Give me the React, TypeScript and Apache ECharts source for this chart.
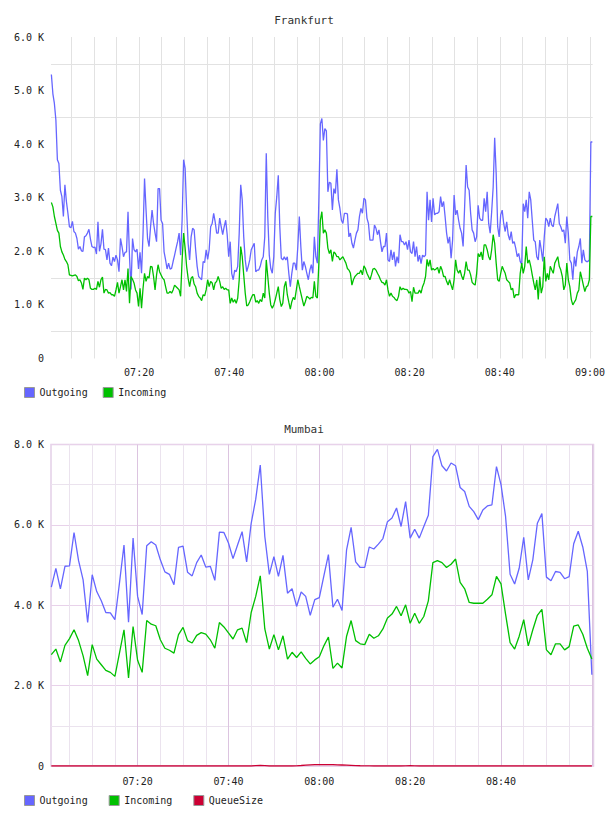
import React, { useEffect, useRef } from "react";
import * as echarts from "echarts";

// ---------- Frankfurt: samples every 20 s starting 07:00:32, values in thousands ----------
const frankfurtStartMin = 420 + 32 / 60;
const frankfurtStepMin = 20 / 60;

const frankfurtOutgoingK = [
  5.30, 4.94, 4.76, 4.45, 3.71, 3.64, 3.14, 3.02, 2.65, 3.24,
  2.93, 2.71, 2.46, 2.44, 2.56, 2.37, 2.34, 2.24, 2.04, 2.09,
  2.01, 2.00, 2.27, 2.29, 2.34, 2.41, 2.23, 2.09, 2.07, 2.08,
  1.95, 2.55, 2.00, 2.14, 2.41, 2.04, 2.03, 1.84, 2.06, 1.78,
  1.73, 1.89, 1.81, 1.93, 1.84, 1.62, 2.24, 2.09, 1.90, 1.98,
  1.99, 2.74, 1.90, 1.29, 2.24, 2.03, 1.99, 2.04, 1.67, 1.98,
  1.59, 2.34, 3.36, 2.77, 2.24, 2.09, 2.46, 2.77, 2.52, 2.34,
  2.18, 3.17, 3.17, 2.58, 2.52, 1.99, 1.84, 1.67, 1.78, 1.67,
  1.68, 1.81, 1.93, 2.06, 2.18, 2.34, 1.93, 2.58, 3.71, 3.55,
  2.77, 2.15, 1.84, 2.27, 2.43, 2.40, 2.03, 1.72, 1.53, 1.50,
  1.47, 1.81, 1.79, 2.03, 1.85, 2.03, 2.46, 2.52, 2.71, 2.55,
  2.34, 2.34, 2.62, 2.46, 2.31, 2.46, 2.58, 2.31, 1.90, 2.18,
  1.59, 1.47, 1.65, 1.62, 1.72, 2.34, 3.24, 2.96, 2.27, 1.84,
  1.62, 1.72, 1.84, 2.03, 2.09, 2.15, 1.62, 1.65, 1.65, 1.72,
  1.84, 1.90, 2.27, 3.83, 2.65, 1.93, 1.68, 1.59, 1.90, 2.71,
  3.02, 3.42, 2.46, 1.87, 1.84, 1.90, 1.84, 1.90, 1.59, 1.34,
  1.59, 1.78, 1.78, 1.65, 2.09, 2.65, 2.09, 1.65, 1.81, 1.72,
  1.59, 1.47, 1.65, 1.75, 1.59, 2.27, 1.90, 1.78, 2.96, 4.38,
  4.48, 4.07,
  4.29, 4.25, 3.11, 3.29, 3.27, 2.77, 3.17, 3.08, 3.53, 2.96,
  2.80, 2.58, 2.52, 2.71, 2.71, 2.70, 2.27, 2.34, 2.15, 2.06,
  2.21, 2.34, 2.40, 2.65, 2.80, 2.71, 2.99, 2.96, 2.62, 2.52,
  2.21, 2.21, 2.21, 2.49, 2.43, 2.31, 2.40, 2.18, 1.99, 2.09,
  2.09, 2.34, 1.84, 1.81, 2.03, 1.84, 1.99, 1.72, 1.90, 1.78,
  2.31, 2.18, 2.18, 2.12, 2.18, 2.03, 2.21, 1.99, 1.96, 2.18,
  1.90, 2.09, 1.81, 1.93, 1.77, 1.93, 1.90, 1.93, 3.11, 2.58,
  2.96, 2.55, 2.99, 2.68, 2.71, 2.71, 2.74, 3.02, 2.83, 2.93,
  2.65, 2.34, 2.15, 2.27, 1.87, 2.21, 3.05, 2.68, 2.77, 2.58,
  2.43, 2.34, 2.09, 2.83, 3.61, 3.20, 3.14, 2.71, 2.40, 2.34,
  2.18, 2.27, 2.86, 2.62, 2.58, 2.58, 2.99, 2.74, 3.11, 2.52,
  2.34, 2.74, 3.20, 4.12, 3.45, 2.46, 2.27, 2.68, 2.77, 2.52,
  2.37, 2.55, 2.31, 2.21, 2.37, 2.15, 2.18, 2.06, 1.90, 1.96,
  1.81, 1.75, 2.89, 2.74, 2.96, 2.62, 3.11, 2.96, 2.58, 2.21,
  2.18, 1.90, 1.84, 2.21, 2.03, 1.81, 2.27, 2.62, 2.58, 2.46,
  2.62, 2.49, 2.46, 2.65, 2.77, 2.89, 2.52, 2.46, 2.37, 2.40,
  2.15, 2.65, 2.34, 1.84, 1.78, 1.47, 1.90, 1.72, 1.99, 2.09,
  2.24, 1.78, 2.03, 1.84, 1.81, 1.81, 1.84, 4.04, 4.04,
];

const frankfurtIncomingK = [
  2.91, 2.83, 2.65, 2.52, 2.39, 2.34, 2.09, 1.99, 1.93, 1.85,
  1.81, 1.75, 1.56, 1.55, 1.54, 1.55, 1.56, 1.53, 1.45, 1.47,
  1.41, 1.29, 1.50, 1.47, 1.50, 1.47, 1.31, 1.29, 1.29, 1.31,
  1.29, 1.44, 1.33, 1.47, 1.52, 1.22, 1.29, 1.28, 1.22, 1.23,
  1.19, 1.19, 1.16, 1.28, 1.42, 1.22, 1.34, 1.47, 1.28, 1.47,
  1.25, 1.68, 1.03, 1.53, 1.48, 1.41, 1.28, 1.22, 0.97, 1.31,
  0.94, 1.31, 1.59, 1.44, 1.53, 1.50, 1.72, 1.71, 1.53, 1.28,
  1.56, 1.75, 1.62, 1.56, 1.50, 1.47, 1.34, 1.22, 1.22, 1.25,
  1.22, 1.28, 1.37, 1.34, 1.31, 1.28, 1.16, 1.84, 2.34, 2.06,
  1.72, 1.50, 1.34, 1.50, 1.53, 1.39, 1.34, 1.22, 1.16, 1.13,
  1.08, 1.19, 1.17, 1.28, 1.47, 1.34, 1.44, 1.41, 1.28, 1.41,
  1.44, 1.53, 1.44, 1.31, 1.34, 1.29, 1.31, 1.28, 1.28, 1.03,
  1.13, 1.05, 1.10, 1.03, 1.13, 1.47, 2.09, 1.90, 1.56, 1.22,
  0.98, 1.00, 1.06, 1.13, 1.19, 1.19, 1.05, 1.08, 1.03, 1.10,
  1.06, 1.22, 1.13, 1.84, 1.53, 1.22, 1.00, 0.94, 1.00, 1.10,
  1.22, 1.34, 1.10, 0.97, 1.03, 1.34, 1.44, 1.19, 1.05, 0.92,
  1.06, 1.14, 1.10, 1.28, 1.47, 1.34, 1.22, 1.10, 0.98, 1.06,
  1.16, 1.14, 1.11, 1.14, 1.13, 1.44, 1.16, 1.13, 1.78, 2.58,
  2.74, 2.34,
  2.40, 2.34, 2.06, 1.96, 2.03, 1.81, 1.99, 1.96, 1.90, 1.90,
  1.84, 1.87, 1.90, 1.84, 1.78, 1.68, 1.65, 1.59, 1.37, 1.47,
  1.53, 1.56, 1.59, 1.59, 1.65, 1.56, 1.73, 1.68, 1.59, 1.53,
  1.47, 1.56, 1.67, 1.68, 1.65, 1.59, 1.54, 1.47, 1.42, 1.41,
  1.37, 1.47, 1.28, 1.16, 1.22, 1.16, 1.14, 1.10, 1.08, 1.16,
  1.34, 1.28, 1.31, 1.29, 1.29, 1.28, 1.22, 1.25, 1.06, 1.33,
  1.22, 1.22, 1.22, 1.28, 1.22, 1.34, 1.41, 1.53, 1.85, 1.72,
  1.84, 1.65, 1.68, 1.65, 1.67, 1.70, 1.59, 1.72, 1.65, 1.53,
  1.53, 1.44, 1.37, 1.47, 1.37, 1.28, 1.47, 1.84, 1.65, 1.59,
  1.65, 1.54, 1.47, 1.59, 1.81, 1.65, 1.65, 1.56, 1.42, 1.39,
  1.37, 1.59, 1.96, 1.90, 1.99, 1.84, 2.12, 2.12, 2.03, 1.90,
  1.84, 2.03, 2.31, 2.15, 1.78, 1.47, 1.44, 1.59, 1.72, 1.65,
  1.59, 1.47, 1.44, 1.41, 1.28, 1.31, 1.13, 1.19, 1.19, 1.19,
  1.59, 1.78, 1.59, 1.72, 2.09, 1.78, 1.84, 1.72, 1.56, 1.41,
  1.28, 1.47, 1.10, 1.53, 1.22, 1.34, 1.90, 1.44, 1.59, 1.47,
  1.72, 1.65, 1.59, 1.78, 1.84, 1.90, 1.72, 1.65, 1.53, 1.28,
  1.37, 1.78, 1.47, 1.34, 1.10, 1.00, 1.05, 1.10, 1.22, 1.28,
  1.62, 1.50, 1.37, 1.25, 1.34, 1.36, 1.47, 2.65, 2.65,
];

// ---------- Mumbai: one sample per minute starting 07:01, values in thousands ----------
const mumbaiStartMin = 421;
const mumbaiStepMin = 1;

const mumbaiOutgoingK = [
  4.45, 4.92, 4.41, 4.97, 4.98, 5.81, 5.11, 4.63, 3.57, 4.76,
  4.34, 4.11, 3.82, 3.81, 3.64, 4.55, 5.50, 3.58, 5.67, 4.22,
  3.77, 5.48, 5.58, 5.50, 5.13, 4.83, 4.77, 4.51, 5.44, 5.47,
  4.82, 4.73, 5.06, 5.25, 4.95, 4.97, 4.62, 5.82, 5.81, 5.55,
  5.16, 5.50, 5.83, 5.08, 6.04, 6.64, 7.49, 5.71, 4.77, 5.21,
  4.72, 5.24, 4.30, 4.41, 3.97, 4.33, 4.22, 3.75, 4.14, 4.19,
  4.73, 5.26, 3.95, 4.15, 3.87, 5.38, 5.94, 5.08, 4.94, 4.94,
  5.45, 5.40, 5.52, 5.66, 6.08, 6.17, 6.42, 5.96, 6.58, 5.67,
  5.89, 5.67, 5.96, 6.24, 7.70, 7.88, 7.47, 7.34, 7.54, 7.47,
  6.93, 6.83, 6.46, 6.33, 6.13, 6.37, 6.47, 6.50, 7.45, 7.00,
  6.21, 4.77, 4.53, 4.92, 5.69, 4.63, 5.13, 6.04, 6.28, 4.70,
  4.61, 4.84, 4.82, 4.66, 4.71, 5.53, 5.84, 5.45, 4.84, 2.27,
];

const mumbaiIncomingK = [
  2.77, 2.91, 2.59, 3.00, 3.17, 3.39, 3.12, 2.74, 2.25, 3.02,
  2.66, 2.52, 2.38, 2.33, 2.23, 2.81, 3.39, 2.19, 3.47, 2.63,
  2.33, 3.62, 3.53, 3.49, 3.14, 2.93, 2.88, 2.81, 3.27, 3.45,
  3.12, 3.06, 3.25, 3.32, 3.28, 3.14, 2.93, 3.57, 3.46, 3.31,
  3.16, 3.39, 3.43, 3.07, 3.82, 4.22, 4.73, 3.41, 2.91, 3.27,
  2.89, 3.24, 2.66, 2.83, 2.70, 2.84, 2.68, 2.54, 2.64, 2.72,
  2.99, 3.21, 2.43, 2.56, 2.44, 3.23, 3.62, 3.12, 3.04, 3.02,
  3.28, 3.18, 3.24, 3.41, 3.68, 3.78, 3.97, 3.74, 4.01, 3.55,
  3.80, 3.55, 3.72, 4.11, 5.06, 5.11, 5.06, 4.94, 5.02, 5.15,
  4.57, 4.41, 4.07, 4.05, 4.05, 4.05, 4.15, 4.26, 4.72, 4.53,
  3.78, 3.07, 2.91, 3.23, 3.64, 2.99, 3.39, 3.75, 3.90, 2.89,
  2.77, 3.04, 3.04, 2.89, 2.97, 3.48, 3.51, 3.28, 2.93, 2.66,
];

const mumbaiQueueSizeK = [
  0, 0, 0, 0, 0, 0, 0, 0, 0, 0,
  0, 0, 0, 0, 0, 0, 0, 0, 0, 0,
  0, 0, 0, 0, 0, 0, 0, 0, 0, 0,
  0, 0, 0, 0, 0, 0, 0, 0, 0, 0,
  0, 0, 0, 0, 0, 0.01, 0.012, 0.01, 0, 0,
  0, 0, 0, 0, 0.005, 0.012, 0.02, 0.028, 0.032, 0.035,
  0.036, 0.035, 0.033, 0.03, 0.025, 0.02, 0.015, 0.01, 0.006, 0.004,
  0.002, 0, 0, 0, 0, 0, 0, 0, 0.004, 0.008,
  0.005, 0, 0, 0, 0, 0, 0, 0, 0, 0,
  0, 0, 0, 0, 0, 0, 0, 0, 0, 0,
  0, 0, 0, 0, 0, 0, 0, 0, 0, 0,
  0, 0, 0, 0, 0, 0, 0, 0, 0, 0,
];

const seriesNames = ["Outgoing", "Incoming", "QueueSize"];
const timeLabelMinutes = [440, 460, 480, 500, 520, 540];
const gridLineMinutes = [
  425, 430, 435, 440, 445, 450, 455, 460, 465, 470, 475, 480, 485, 490,
  495, 500, 505, 510, 515, 520, 525, 530, 535, 540,
];

const FONT = "'DejaVu Sans Mono', monospace";
const BLUE = "#6666ff";
const GREEN = "#00c000";
const RED = "#cc0033";

const pad2 = (n: number) => (n < 10 ? "0" + n : "" + n);
const clock = (m: number) => {
  const r = Math.round(m);
  return pad2(Math.floor(r / 60)) + ":" + pad2(r % 60);
};
const kLabel = (v: number) => (v === 0 ? "0" : v.toFixed(1) + " K");

const toPoints = (start: number, step: number, vals: number[]) =>
  vals.map((v, i) => [start + i * step, v]);

function buildOption() {
  const labelText = { fontFamily: FONT, fontSize: 10, color: "#222" };
  const titleText = { fontFamily: FONT, fontSize: 11, fontWeight: "normal", color: "#333" };
  const legendBase = {
    left: 24,
    padding: 0,
    icon: "rect",
    itemWidth: 10,
    itemHeight: 10,
    itemStyle: { borderColor: "#999", borderWidth: 1 },
    textStyle: { fontFamily: FONT, fontSize: 10, color: "#222" },
    selectedMode: false,
  };
  const lineSeries = (
    name: string,
    color: string,
    axis: number,
    data: number[][],
    z: number
  ) => ({
    name,
    type: "line",
    xAxisIndex: axis,
    yAxisIndex: axis === 0 ? 0 : 1,
    data,
    showSymbol: false,
    symbol: "none",
    silent: true,
    z,
    lineStyle: { color, width: 1.3 },
    itemStyle: { color },
    emphasis: { disabled: true },
  });

  return {
    animation: false,
    backgroundColor: "#ffffff",
    title: [
      { text: "Frankfurt", left: "center", top: 14.5, padding: 0, textStyle: titleText },
      { text: "Mumbai", left: "center", top: 423.5, padding: 0, textStyle: titleText },
    ],
    legend: [
      { ...legendBase, data: seriesNames.slice(0, 2), top: 387, itemGap: 15 },
      { ...legendBase, data: seriesNames, top: 795, itemGap: 21 },
    ],
    grid: [
      { left: 51, top: 37, width: 542, height: 321.5, show: false },
      {
        left: 51,
        top: 444.5,
        width: 542.5,
        height: 321.5,
        show: true,
        borderColor: "#e4d0e8",
        borderWidth: 1.5,
      },
    ],
    xAxis: [
      {
        gridIndex: 0,
        type: "value",
        min: 420.45,
        max: 540.6,
        axisLine: { show: false },
        axisTick: { show: false, customValues: gridLineMinutes },
        splitLine: { show: true, lineStyle: { color: "#e2e2e2", width: 1 } },
        axisLabel: {
          ...labelText,
          margin: 9,
          customValues: timeLabelMinutes,
          formatter: (v: number) => clock(v),
        },
      },
      {
        gridIndex: 1,
        type: "value",
        min: 420.93,
        max: 540.36,
        axisLine: { show: false },
        axisTick: { show: false, customValues: timeLabelMinutes },
        splitLine: { show: true, lineStyle: { color: "#dcc4e0", width: 1 } },
        axisLabel: {
          ...labelText,
          margin: 10,
          customValues: timeLabelMinutes.slice(0, 5),
          formatter: (v: number) => clock(v),
        },
      },
      {
        gridIndex: 1,
        type: "value",
        min: 420.93,
        max: 540.36,
        axisLine: { show: false },
        axisTick: {
          show: false,
          customValues: gridLineMinutes.filter((m) => m % 20 !== 0),
        },
        splitLine: { show: true, lineStyle: { color: "#ebe3ee", width: 1 } },
        axisLabel: { show: false },
      },
    ],
    yAxis: [
      {
        gridIndex: 0,
        type: "value",
        min: 0,
        max: 6,
        interval: 1,
        axisLine: { show: false },
        axisTick: { show: false },
        splitLine: { show: false },
        minorTick: { show: false, splitNumber: 2 },
        minorSplitLine: { show: true, lineStyle: { color: "#e2e2e2", width: 1 } },
        axisLabel: { ...labelText, margin: 7, formatter: kLabel },
      },
      {
        gridIndex: 1,
        type: "value",
        min: 0,
        max: 8,
        interval: 2,
        axisLine: { show: false },
        axisTick: { show: false },
        splitLine: { show: true, lineStyle: { color: "#e8d2ea", width: 1 } },
        minorTick: { show: false, splitNumber: 2 },
        minorSplitLine: { show: true, lineStyle: { color: "#ebe3ee", width: 1 } },
        axisLabel: { ...labelText, margin: 7, formatter: kLabel },
      },
    ],
    series: [
      lineSeries("Outgoing", BLUE, 0, toPoints(frankfurtStartMin, frankfurtStepMin, frankfurtOutgoingK), 2),
      lineSeries("Incoming", GREEN, 0, toPoints(frankfurtStartMin, frankfurtStepMin, frankfurtIncomingK), 3),
      lineSeries("Outgoing", BLUE, 1, toPoints(mumbaiStartMin, mumbaiStepMin, mumbaiOutgoingK), 2),
      lineSeries("Incoming", GREEN, 1, toPoints(mumbaiStartMin, mumbaiStepMin, mumbaiIncomingK), 3),
      lineSeries("QueueSize", RED, 1, toPoints(mumbaiStartMin, mumbaiStepMin, mumbaiQueueSizeK), 4),
    ],
  };
}

export default function App() {
  const ref = useRef<HTMLDivElement>(null);
  useEffect(() => {
    if (!ref.current) return;
    const chart = echarts.init(ref.current, undefined, { renderer: "svg" });
    chart.setOption(buildOption() as any);
    return () => chart.dispose();
  }, []);
  return (
    <div
      ref={ref}
      style={{ position: "absolute", left: 0, top: 0, width: 608, height: 816 }}
    />
  );
}
